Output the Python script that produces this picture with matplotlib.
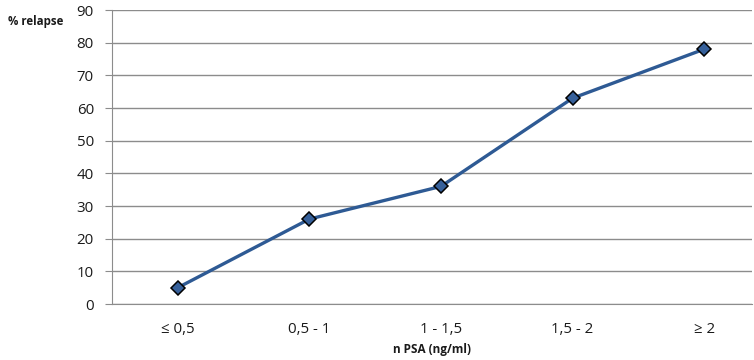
import matplotlib
matplotlib.use("Agg")
import matplotlib.pyplot as plt

categories = ["≤ 0,5", "0,5 - 1", "1 - 1,5", "1,5 - 2", "≥ 2"]
relapse = [5, 26, 36, 63, 78]
yticks = [0, 10, 20, 30, 40, 50, 60, 70, 80, 90]

plt.rcParams['font.family'] = ['Open Sans', 'DejaVu Sans']

fig = plt.figure(figsize=(7.54, 3.6), dpi=100)
ax = fig.add_axes([112/754, 1 - 304/360, (752-112)/754, (304-10)/360])

x = list(range(len(categories)))
ax.plot(x, relapse, color='#2E5A94', lw=2.4, marker='D', markersize=7,
        markerfacecolor='#36609A', markeredgecolor='black', markeredgewidth=1.1,
        zorder=3)

ax.set_ylim(0, 90)
ax.set_xlim(-0.5, 4.364)
ax.set_yticks(yticks)
ax.set_xticks(x)
ax.set_xticklabels(categories)
ax.grid(axis='y', color='#8C8C8C', lw=1)
ax.set_axisbelow(True)
for s in ['top', 'right']:
    ax.spines[s].set_visible(False)
ax.spines['left'].set_color('#8C8C8C')
ax.spines['bottom'].set_color('#8C8C8C')
ax.tick_params(axis='y', length=5, color='#8C8C8C', labelsize=10.8, pad=8, labelcolor='#1a1a1a')
ax.tick_params(axis='x', length=0, labelsize=10.8, pad=13, labelcolor='#1a1a1a')

fig.text(8/754, 1 - 22/360, "% relapse", fontsize=8.3, fontweight='bold', va='center', ha='left', color='#1a1a1a')
fig.text(432/754, 1 - 350/360, "n PSA (ng/ml)", fontsize=8.5, fontweight='bold', va='center', ha='center', color='#1a1a1a')

fig.savefig("out.png", dpi=100)
